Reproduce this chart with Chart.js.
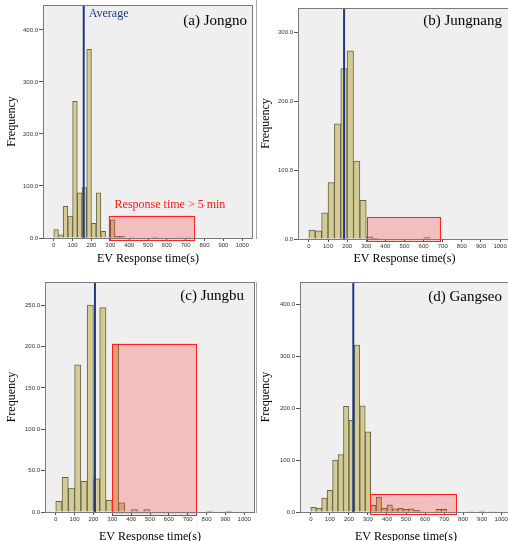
<!DOCTYPE html>
<html>
<head>
<meta charset="utf-8">
<script src="https://cdn.jsdelivr.net/npm/chart.js@4.4.1/dist/chart.umd.min.js"></script>
<style>
  html, body { margin: 0; padding: 0; background: #fff; overflow: hidden; width: 508px; height: 541px; }
  canvas { position: absolute; }
  .edge { position: absolute; width: 1px; background: #a8a8a8; }
</style>
</head>
<body>
<div class="edge" style="left:256px;top:0;height:239px"></div>
<div class="edge" style="left:256px;top:282px;height:231px"></div>
<canvas id="jongno" width="255" height="270" style="left:0;top:0"></canvas>
<canvas id="jungnang" width="260" height="270" style="left:254px;top:0"></canvas>
<canvas id="jungbu" width="256" height="280" style="left:0;top:270px"></canvas>
<canvas id="gangseo" width="260" height="280" style="left:254px;top:270px"></canvas>
<script>
// shared x ticks (seconds)
const xTicks = [0, 100, 200, 300, 400, 500, 600, 700, 800, 900, 1000];

// (a) Jongno - bins of 25 s
const jongnoBin = 25;
const jongnoCounts = [16, 6, 61, 42, 263, 87, 97, 363, 28, 87, 13, 0, 35, 3, 3, 0, 1, 0, 0, 0, 0, 2, 0, 0, 0, 0, 1, 0, 1];
const jongnoYTicks = [0, 100, 200, 300, 400];
const jongnoAverage = 159;
const jongnoBox = [291, 742, -4, 43];

// (b) Jungnang - bins of 33.3 s
const jungnangBin = 1000 / 30;
const jungnangCounts = [13, 12, 38, 82, 167, 247, 273, 113, 56, 3, 1, 0, 0, 0, 0, 0, 0, 0, 2];
const jungnangYTicks = [0, 100, 200, 300];
const jungnangAverage = 184;
const jungnangBox = [303, 686, -3, 32];

// (c) Jungbu - bins of 33.3 s
const jungbuBin = 1000 / 30;
const jungbuCounts = [13, 42, 29, 178, 37, 250, 40, 247, 14, 203, 11, 0, 3, 0, 3, 0, 0, 0, 0, 0, 0, 0, 0, 0, 1, 0, 0, 1];
const jungbuYTicks = [0, 50, 100, 150, 200, 250];
const jungbuAverage = 208;
const jungbuBox = [300, 746, -3, 203.5];

// (d) Gangseo - bins of 28.6 s
const gangseoBin = 1000 / 35;
const gangseoCounts = [9, 7, 27, 42, 100, 111, 204, 177, 322, 205, 155, 13, 29, 7, 14, 6, 7, 5, 6, 3, 1, 0, 0, 5, 5, 0, 0, 0, 0, 1, 0, 2, 0, 1];
const gangseoYTicks = [0, 100, 200, 300, 400];
const gangseoAverage = 223;
const gangseoBox = [312, 763, -3, 35];

const serif = '"Liberation Serif", "Times New Roman", serif';
const sans = '"Liberation Sans", Arial, sans-serif';

const panelPlugin = {
  id: 'panel',
  beforeDraw(chart) {
    const { ctx, chartArea: a } = chart;
    ctx.save();
    ctx.fillStyle = '#efefef';
    ctx.fillRect(a.left, a.top, a.right - a.left, a.bottom - a.top);
    ctx.restore();
  },
  afterDatasetsDraw(chart, args, o) {
    const { ctx, chartArea: a, scales: { x, y } } = chart;
    ctx.save();
    // highlighted region
    const x1 = x.getPixelForValue(o.box[0]), x2 = x.getPixelForValue(o.box[1]);
    const y1 = y.getPixelForValue(o.box[3]), y2 = y.getPixelForValue(o.box[2]);
    ctx.fillStyle = 'rgba(255, 20, 20, 0.22)';
    ctx.fillRect(x1, y1, x2 - x1, y2 - y1);
    ctx.strokeStyle = '#ff2020';
    ctx.lineWidth = 1;
    ctx.strokeRect(Math.round(x1) + 0.5, Math.round(y1) + 0.5, Math.round(x2 - x1), Math.round(y2 - y1));
    // average line
    const ax = x.getPixelForValue(o.average);
    ctx.strokeStyle = '#1d3b84';
    ctx.lineWidth = 2;
    ctx.beginPath();
    ctx.moveTo(ax, a.top);
    ctx.lineTo(ax, a.bottom);
    ctx.stroke();
    // frame
    ctx.strokeStyle = '#7a7a7a';
    ctx.lineWidth = 1;
    ctx.strokeRect(Math.round(a.left) + 0.5, Math.round(a.top) + 0.5,
      Math.round(a.right - a.left) - 1, Math.round(a.bottom - a.top));
    // panel title
    ctx.fillStyle = '#000';
    ctx.font = '15px ' + serif;
    ctx.textAlign = 'right';
    ctx.textBaseline = 'middle';
    ctx.fillText(o.title, a.right - o.titleRight, a.top + o.titleY);
    if (o.avgLabel) {
      ctx.fillStyle = '#1d3b84';
      ctx.font = '12px ' + serif;
      ctx.textAlign = 'left';
      ctx.fillText(o.avgLabel, ax + 5, a.top + 9);
    }
    if (o.boxLabel) {
      ctx.fillStyle = '#ff1a1a';
      ctx.font = '12px ' + serif;
      ctx.textAlign = 'left';
      ctx.fillText(o.boxLabel, x1 + 6, y1 - 11);
    }
    ctx.restore();
  }
};

function histogram(id, bin, counts, yMax, yTicks, average, box, lay, extra) {
  const points = counts.map((c, i) => ({ x: bin * i + bin / 2, y: c }));
  return new Chart(document.getElementById(id), {
    type: 'bar',
    data: {
      datasets: [{
        data: points,
        backgroundColor: '#d3cb93',
        borderColor: '#66634a',
        borderWidth: 1,
        barPercentage: 1,
        categoryPercentage: 1
      }]
    },
    options: {
      responsive: false,
      animation: false,
      events: [],
      layout: { autoPadding: false, padding: { left: 0, top: lay.padTop, right: lay.padRight, bottom: 0 } },
      plugins: {
        legend: { display: false },
        tooltip: { enabled: false },
        panel: Object.assign({ box: box, average: average, title: lay.title, titleRight: lay.titleRight, titleY: lay.titleY }, extra)
      },
      scales: {
        x: {
          type: 'linear',
          min: -57,
          max: 1057,
          offset: false,
          afterBuildTicks: s => { s.ticks = xTicks.map(v => ({ value: v })); },
          afterFit: s => { s.height = lay.xHeight; s.paddingLeft = 0; s.paddingRight = 0; },
          grid: { offset: false, drawOnChartArea: false, drawTicks: true, tickLength: 3, color: '#555' },
          border: { display: false },
          ticks: { font: { family: sans, size: 6 }, color: '#333', padding: 1, maxRotation: 0, autoSkip: false,
                   callback: v => String(v) },
          title: { display: true, text: 'EV Response time(s)', font: { family: serif, size: 12 }, color: '#000',
                   padding: { top: 0, bottom: lay.xTitlePad } }
        },
        y: {
          min: 0,
          max: yMax,
          afterBuildTicks: s => { s.ticks = yTicks.map(v => ({ value: v })); },
          afterFit: s => { s.width = lay.yWidth; s.paddingTop = 0; s.paddingBottom = 0; },
          grid: { drawOnChartArea: false, drawTicks: true, tickLength: 4, color: '#555' },
          border: { display: false },
          ticks: { font: { family: sans, size: 6 }, color: '#333', padding: 1, callback: v => v.toFixed(1) },
          title: { display: true, text: 'Frequency', font: { family: serif, size: 12 }, color: '#000',
                   padding: { top: lay.yTitlePad, bottom: 0 } }
        }
      }
    },
    plugins: [panelPlugin]
  });
}

histogram('jongno', jongnoBin, jongnoCounts, 448, jongnoYTicks, jongnoAverage, jongnoBox,
  { padTop: 5, padRight: 2, yWidth: 43, xHeight: 32, yTitlePad: 5, xTitlePad: 4, title: '(a) Jongno', titleRight: 6, titleY: 16 },
  { avgLabel: 'Average', boxLabel: 'Response time > 5 min' });

histogram('jungnang', jungnangBin, jungnangCounts, 335, jungnangYTicks, jungnangAverage, jungnangBox,
  { padTop: 8, padRight: 3, yWidth: 44, xHeight: 31, yTitlePad: 4.5, xTitlePad: 4, title: '(b) Jungnang', titleRight: 9, titleY: 13 });

histogram('jungbu', jungbuBin, jungbuCounts, 278, jungbuYTicks, jungbuAverage, jungbuBox,
  { padTop: 12, padRight: 1, yWidth: 45, xHeight: 38, yTitlePad: 4.5, xTitlePad: 6, title: '(c) Jungbu', titleRight: 11, titleY: 14 });

histogram('gangseo', gangseoBin, gangseoCounts, 444, gangseoYTicks, gangseoAverage, gangseoBox,
  { padTop: 12, padRight: 2, yWidth: 46, xHeight: 38, yTitlePad: 4.5, xTitlePad: 6, title: '(d) Gangseo', titleRight: 10, titleY: 15 });
</script>
</body>
</html>
